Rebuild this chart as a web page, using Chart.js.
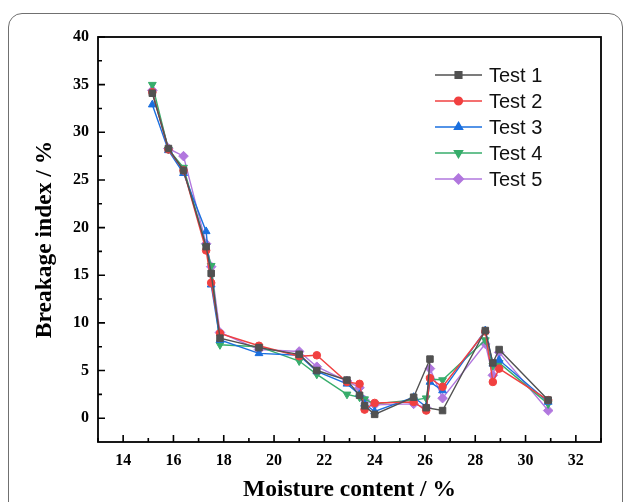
<!DOCTYPE html>
<html>
<head>
<meta charset="utf-8">
<script src="https://cdn.jsdelivr.net/npm/chart.js@4.4.1/dist/chart.umd.min.js"></script>
<style>
    html, body { margin: 0; padding: 0; background: #fff; }
    #contenedor { position: relative; width: 627px; height: 502px; overflow: hidden; }
    #marco { position: absolute; left: 8px; top: 13px; width: 613px; height: 540px; border: 1px solid #707070; border-radius: 14px; }
    canvas { position: absolute; left: 0; top: 0; }
</style>
</head>
<body>
<div id="contenedor">
    <div id="marco"></div>
    <canvas id="chartRotura" width="627" height="502"></canvas>
</div>
<script>
// ===== INDICE DE ROTURA VS HUMEDAD =====

// Humedad (%) de cada punto
const humedad = [15.16, 15.8, 16.4, 17.3, 17.5, 17.85, 19.4, 21.0, 21.7, 22.9, 23.4, 23.6, 24.0, 25.55, 26.05, 26.2, 26.7, 28.4, 28.7, 28.95, 30.9];
// Test 1 pasa primero por el punto alto de 26.2
const humedadTest1 = [15.16, 15.8, 16.4, 17.3, 17.5, 17.85, 19.4, 21.0, 21.7, 22.9, 23.4, 23.6, 24.0, 25.55, 26.2, 26.05, 26.7, 28.4, 28.7, 28.95, 30.9];

const test1 = [34.1, 28.3, 26.0, 18.0, 15.2, 8.4, 7.4, 6.7, 5.0, 4.0, 2.4, 1.3, 0.4, 2.2, 6.2, 1.1, 0.8, 9.2, 5.8, 7.2, 1.9];
const test2 = [34.2, 28.2, 26.0, 17.6, 14.2, 8.9, 7.6, 6.5, 6.6, 3.8, 3.6, 0.9, 1.6, 1.7, 0.8, 4.2, 3.3, 9.1, 3.8, 5.2, 1.9];
const test3 = [32.9, 28.1, 25.7, 19.6, 14.0, 8.2, 6.8, 6.6, 4.9, 3.6, 2.5, 1.5, 0.7, 2.2, 1.2, 3.8, 2.9, 9.2, 5.7, 6.1, 1.7];
const test4 = [35.0, 28.2, 26.3, 18.0, 16.0, 7.7, 7.5, 6.0, 4.6, 2.5, 2.2, 2.0, 1.5, 1.9, 2.1, 4.1, 4.0, 8.2, 5.5, 5.8, 1.5];
const test5 = [34.4, 28.3, 27.5, 18.3, 15.9, 9.0, 7.2, 7.0, 5.4, 3.9, 3.2, 1.9, 1.4, 1.5, 1.1, 5.2, 2.1, 7.8, 4.5, 6.9, 0.8];

const nombresTest = ['Test 1', 'Test 2', 'Test 3', 'Test 4', 'Test 5'];

const fuenteSerif = "'Liberation Serif', 'Times New Roman', serif";

function puntos(xs, ys) {
    return xs.map((x, i) => ({ x: x, y: ys[i] }));
}

function serie(nombre, xs, ys, color, estilo, radio, rotacion) {
    return {
        label: nombre,
        data: puntos(xs, ys),
        borderColor: color,
        backgroundColor: color,
        pointBackgroundColor: color,
        pointBorderColor: color,
        borderWidth: 1.4,
        pointStyle: estilo,
        pointRotation: rotacion || 0,
        pointRadius: radio,
        pointBorderWidth: 1,
        tension: 0
    };
}

// Marco del grafico y ticks hacia adentro
const marcoTicks = {
    id: 'marcoTicks',
    afterDatasetsDraw(chart) {
        const ctx = chart.ctx;
        const area = chart.chartArea;
        const ejeX = chart.scales.x;
        const ejeY = chart.scales.y;
        ctx.save();
        ctx.strokeStyle = '#000';
        ctx.lineWidth = 1.6;
        ctx.beginPath();
        for (let v = 13; v <= 33; v++) {
            const px = ejeX.getPixelForValue(v);
            const largo = v % 2 === 0 ? 7 : 4;
            ctx.moveTo(px, area.bottom);
            ctx.lineTo(px, area.bottom - largo);
        }
        for (let v = 0; v <= 40; v += 2.5) {
            const py = ejeY.getPixelForValue(v);
            const largo = v % 5 === 0 ? 7 : 4;
            ctx.moveTo(area.left, py);
            ctx.lineTo(area.left + largo, py);
        }
        ctx.stroke();
        ctx.lineWidth = 1.8;
        ctx.strokeRect(area.left, area.top, area.right - area.left, area.bottom - area.top);
        ctx.restore();
    }
};

// Leyenda con linea y marcador
const leyenda = {
    id: 'leyenda',
    afterDraw(chart) {
        const ctx = chart.ctx;
        ctx.save();
        chart.data.datasets.forEach(function(ds, i) {
            const y = 75 + i * 26;
            ctx.strokeStyle = ds.borderColor;
            ctx.lineWidth = 1.6;
            ctx.beginPath();
            ctx.moveTo(435, y);
            ctx.lineTo(482, y);
            ctx.stroke();
            ctx.fillStyle = ds.borderColor;
            Chart.helpers.drawPoint(ctx, {
                pointStyle: ds.pointStyle,
                rotation: ds.pointRotation,
                radius: ds.pointRadius,
                borderWidth: 1
            }, 458.5, y);
            ctx.fillStyle = '#111';
            ctx.font = "20px 'Liberation Sans', Arial, sans-serif";
            ctx.textBaseline = 'middle';
            ctx.textAlign = 'left';
            ctx.fillText(nombresTest[i], 489, y + 1);
        });
        ctx.restore();
    }
};

document.addEventListener('DOMContentLoaded', function() {
    const ctxRotura = document.getElementById('chartRotura');
    new Chart(ctxRotura, {
        type: 'line',
        data: {
            datasets: [
                serie(nombresTest[0], humedadTest1, test1, '#515151', 'rect', 4.6),
                serie(nombresTest[1], humedad, test2, '#F14040', 'circle', 3.8),
                serie(nombresTest[2], humedad, test3, '#1A6FDF', 'triangle', 4.5),
                serie(nombresTest[3], humedad, test4, '#37AD6B', 'triangle', 4.5, 180),
                serie(nombresTest[4], humedad, test5, '#B177DE', 'rectRot', 4.8)
            ]
        },
        options: {
            responsive: false,
            animation: false,
            layout: { padding: { top: 37, right: 26, left: 0, bottom: 0 } },
            plugins: {
                legend: { display: false },
                tooltip: { enabled: false }
            },
            scales: {
                x: {
                    type: 'linear',
                    min: 13,
                    max: 33,
                    grid: { display: false, drawTicks: false },
                    border: { display: false },
                    ticks: {
                        stepSize: 1,
                        autoSkip: false,
                        maxRotation: 0,
                        padding: 9,
                        color: '#000',
                        font: { family: fuenteSerif, weight: 'bold', size: 16 },
                        callback: function(v) { return v % 2 === 0 ? v : ''; }
                    },
                    title: {
                        display: true,
                        text: 'Moisture content / %',
                        color: '#000',
                        padding: { top: 0, bottom: 0 },
                        font: { family: fuenteSerif, weight: 'bold', size: 23.5, lineHeight: 1.0 }
                    },
                    afterFit: function(eje) { eje.height = 60; }
                },
                y: {
                    min: -2.5,
                    max: 40,
                    grid: { display: false, drawTicks: false },
                    border: { display: false },
                    ticks: {
                        stepSize: 2.5,
                        autoSkip: false,
                        padding: 9,
                        color: '#000',
                        font: { family: fuenteSerif, weight: 'bold', size: 16 },
                        callback: function(v) { return (v >= 0 && v % 5 === 0) ? v : ''; }
                    },
                    title: {
                        display: true,
                        text: 'Breakage index / %',
                        color: '#000',
                        padding: { top: 31, bottom: 0 },
                        font: { family: fuenteSerif, weight: 'bold', size: 23.5 }
                    },
                    afterFit: function(eje) { eje.width = 98; }
                }
            }
        },
        plugins: [marcoTicks, leyenda]
    });
});
</script>
</body>
</html>
